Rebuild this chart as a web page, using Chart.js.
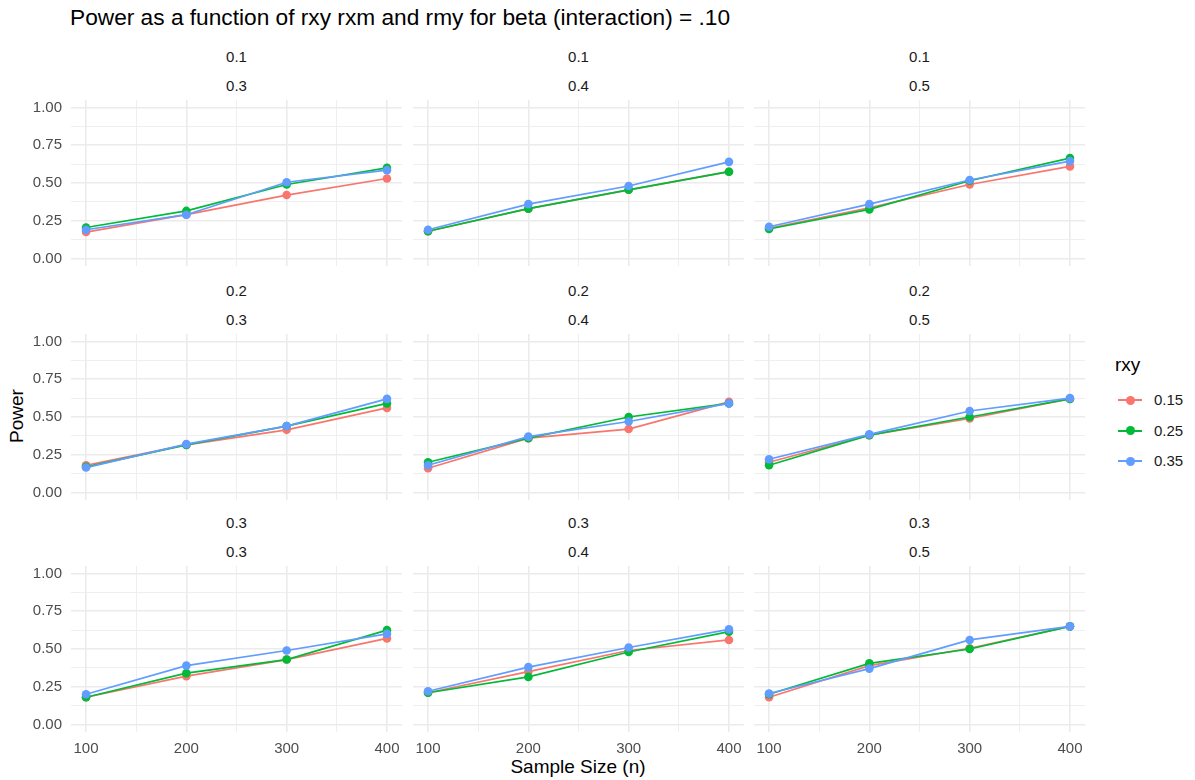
<!DOCTYPE html>
<html>
<head>
<meta charset="utf-8">
<script src="https://cdn.jsdelivr.net/npm/chart.js@4.4.1/dist/chart.umd.min.js"></script>
<style>
    body { margin: 0; background: #fff; font-family: "Liberation Sans", Arial, sans-serif; }
    #wrap { position: relative; width: 1195px; height: 780px; overflow: hidden; }
    .panel { position: absolute; }
    .txt { position: absolute; white-space: nowrap; color: #1a1a1a; }
    .strip { font-size: 15px; transform: translate(-50%, -50%); }
    .key { position: absolute; width: 24px; height: 2px; }
    .key span { position: absolute; left: 7.5px; top: -3.5px; width: 9px; height: 9px; border-radius: 50%; }
</style>
</head>
<body>
<div id="wrap">
    <div class="txt" style="left:70px; top:4px; font-size:22.7px; color:#000;">Power as a function of rxy rxm and rmy for beta (interaction) = .10</div>
    <div class="txt" style="left:17px; top:416px; font-size:19px; color:#000; transform:translate(-50%,-50%) rotate(-90deg);">Power</div>
    <div class="txt" style="left:578px; top:767px; font-size:19px; color:#000; transform:translate(-50%,-50%);">Sample Size (n)</div>
    <div id="legend"></div>
</div>
<script>
// facet labels (rows = rxm, cols = rmy)
let rxm_levels = ['0.1', '0.2', '0.3'];
let rmy_levels = ['0.3', '0.4', '0.5'];
let rxy_levels = ['0.15', '0.25', '0.35'];
let sample_sizes = [100, 200, 300, 400];
let x_ticks = [100, 150, 200, 250, 300, 350, 400];
let y_ticks = [0, 0.125, 0.25, 0.375, 0.5, 0.625, 0.75, 0.875, 1];
let series_colors = ['#F8766D', '#00BA38', '#619CFF'];

// power values per panel, one row per rxy level (0.15, 0.25, 0.35)
let power_01_03 = [[0.175, 0.29, 0.42, 0.53], [0.205, 0.315, 0.49, 0.60], [0.19, 0.29, 0.505, 0.585]];
let power_01_04 = [[0.18, 0.33, 0.455, 0.575], [0.18, 0.33, 0.455, 0.575], [0.19, 0.36, 0.48, 0.64]];
let power_01_05 = [[0.20, 0.335, 0.49, 0.61], [0.195, 0.325, 0.515, 0.665], [0.21, 0.36, 0.52, 0.645]];
let power_02_03 = [[0.18, 0.315, 0.415, 0.56], [0.17, 0.315, 0.44, 0.59], [0.165, 0.32, 0.44, 0.62]];
let power_02_04 = [[0.16, 0.36, 0.42, 0.60], [0.20, 0.36, 0.50, 0.59], [0.18, 0.37, 0.47, 0.59]];
let power_02_05 = [[0.20, 0.38, 0.49, 0.62], [0.18, 0.38, 0.50, 0.62], [0.22, 0.385, 0.54, 0.625]];
let power_03_03 = [[0.18, 0.32, 0.43, 0.57], [0.18, 0.34, 0.43, 0.625], [0.20, 0.39, 0.49, 0.60]];
let power_03_04 = [[0.21, 0.35, 0.49, 0.56], [0.21, 0.315, 0.48, 0.615], [0.22, 0.38, 0.51, 0.63]];
let power_03_05 = [[0.18, 0.39, 0.505, 0.65], [0.20, 0.405, 0.50, 0.65], [0.205, 0.37, 0.56, 0.65]];

let panels = [
    [power_01_03, power_01_04, power_01_05],
    [power_02_03, power_02_04, power_02_05],
    [power_03_03, power_03_04, power_03_05]
];

// panel geometry
let col_left = [71, 413, 754];
let col_width = 331;
let row_top = [100, 334, 566];
let row_height = 166;
let yaxis_w = 71;
let xaxis_h = 32;

let wrap = document.getElementById('wrap');

function addText(x, y, text) {
    let d = document.createElement('div');
    d.className = 'txt strip';
    d.style.left = x + 'px';
    d.style.top = y + 'px';
    d.textContent = text;
    wrap.appendChild(d);
}

// no extra room for labels hanging over the panel edges
function noPad(s) {
    s.paddingTop = 0;
    s.paddingBottom = 0;
    s.paddingLeft = 0;
    s.paddingRight = 0;
}

function makePanel(r, c) {
    let firstCol = c === 0;
    let lastRow = r === 2;
    let div = document.createElement('div');
    div.className = 'panel';
    let left = firstCol ? col_left[c] - yaxis_w : col_left[c];
    let w = col_width + (firstCol ? yaxis_w : 0);
    let h = row_height + (lastRow ? xaxis_h : 0);
    div.style.left = left + 'px';
    div.style.top = row_top[r] + 'px';
    div.style.width = w + 'px';
    div.style.height = h + 'px';
    let cv = document.createElement('canvas');
    div.appendChild(cv);
    wrap.appendChild(div);

    // strip labels
    let cx = col_left[c] + col_width / 2;
    addText(cx, row_top[r] - 44, rxm_levels[r]);
    addText(cx, row_top[r] - 15, rmy_levels[c]);

    let datasets = rxy_levels.map(function (lvl, i) {
        return {
            label: lvl,
            data: sample_sizes.map(function (n, j) { return { x: n, y: panels[r][c][i][j] }; }),
            borderColor: series_colors[i],
            backgroundColor: series_colors[i],
            borderWidth: 1.7,
            pointRadius: 4.3,
            pointBorderWidth: 0,
            order: 3 - i
        };
    });

    new Chart(cv, {
        type: 'line',
        data: { datasets: datasets },
        options: {
            responsive: true,
            maintainAspectRatio: false,
            animation: false,
            layout: { padding: 0, autoPadding: false },
            plugins: { legend: { display: false }, tooltip: { enabled: false } },
            scales: {
                x: {
                    type: 'linear',
                    min: 85, max: 415,
                    afterBuildTicks: function (s) { s.ticks = x_ticks.map(function (v) { return { value: v }; }); },
                    afterFit: function (s) { s.height = lastRow ? xaxis_h : 0; noPad(s); },
                    border: { display: false },
                    grid: {
                        drawTicks: false,
                        color: '#ebebeb',
                        lineWidth: function (ctx) { return ctx.tick && ctx.tick.value % 100 === 0 ? 1.6 : 0.8; }
                    },
                    ticks: {
                        display: lastRow,
                        padding: 8,
                        color: '#4d4d4d',
                        font: { family: 'Liberation Sans', size: 15 },
                        maxRotation: 0,
                        autoSkip: false,
                        callback: function (v) { return v % 100 === 0 ? String(v) : ''; }
                    }
                },
                y: {
                    min: -0.05, max: 1.05,
                    afterBuildTicks: function (s) { s.ticks = y_ticks.map(function (v) { return { value: v }; }); },
                    afterFit: function (s) { s.width = firstCol ? yaxis_w : 0; noPad(s); },
                    border: { display: false },
                    grid: {
                        drawTicks: false,
                        color: '#ebebeb',
                        lineWidth: function (ctx) { return ctx.tick && (ctx.tick.value * 4) % 1 === 0 ? 1.6 : 0.8; }
                    },
                    ticks: {
                        display: firstCol,
                        padding: 9,
                        color: '#4d4d4d',
                        font: { family: 'Liberation Sans', size: 15 },
                        autoSkip: false,
                        callback: function (v) { return (v * 4) % 1 === 0 ? v.toFixed(2) : ''; }
                    }
                }
            }
        }
    });
}

for (let r = 0; r < 3; r++) {
    for (let c = 0; c < 3; c++) {
        makePanel(r, c);
    }
}

// legend
let legend = document.getElementById('legend');
let lt = document.createElement('div');
lt.className = 'txt';
lt.style.cssText = 'left:1115px; top:354px; font-size:19px; color:#000;';
lt.textContent = 'rxy';
legend.appendChild(lt);
rxy_levels.forEach(function (lvl, i) {
    let y = 400 + i * 30.5;
    let k = document.createElement('div');
    k.className = 'key';
    k.style.left = '1118px';
    k.style.top = (y - 1) + 'px';
    k.style.background = series_colors[i];
    let dot = document.createElement('span');
    dot.style.background = series_colors[i];
    k.appendChild(dot);
    legend.appendChild(k);
    let t = document.createElement('div');
    t.className = 'txt';
    t.style.cssText = 'left:1154px; top:' + (y - 9) + 'px; font-size:15px;';
    t.textContent = lvl;
    legend.appendChild(t);
});
</script>
</body>
</html>
